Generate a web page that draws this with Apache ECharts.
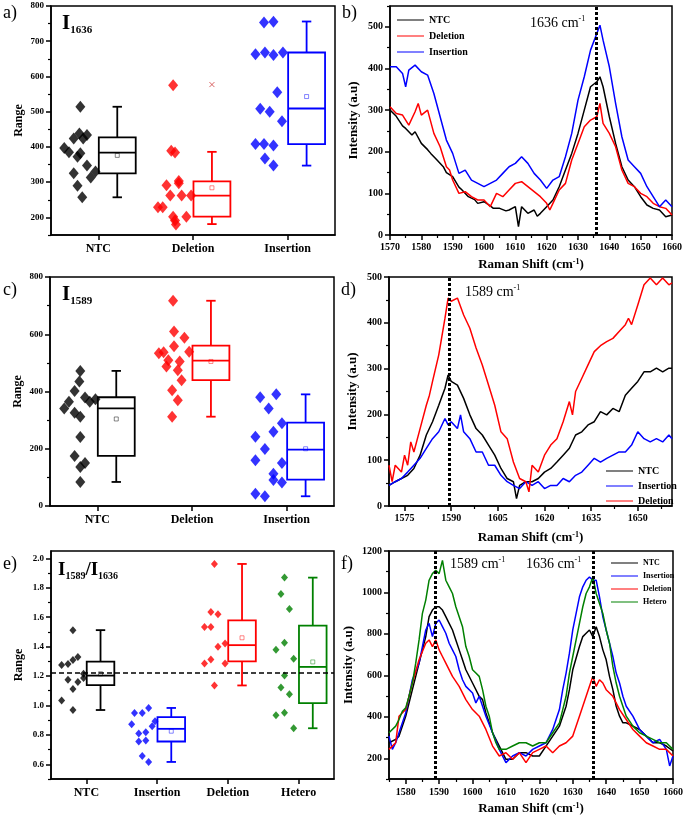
<!DOCTYPE html>
<html><head><meta charset="utf-8">
<script src="https://cdn.jsdelivr.net/npm/echarts@6/dist/echarts.min.js"></script>
<style>html,body{margin:0;padding:0;background:#fff}#c{width:687px;height:822px}</style>
</head><body><div id="c"></div>
<script>
// ---------------- DATA ----------------
// Panel a : I1636 (points as [offset from category, value])
const catsA = ['NTC', 'Deletion', 'Insertion'];
const a_ntcPts = [[-0.19,514],[-0.36,397],[-0.31,385],[-0.26,424],[-0.20,438],[-0.16,424],[-0.12,434],[-0.19,382],[-0.22,372],[-0.12,347],[-0.26,325],[-0.03,330],[-0.08,313],[-0.22,290],[-0.17,257]];
const a_delPts = [[-0.21,575],[-0.23,389],[-0.19,384],[-0.15,303],[-0.15,297],[-0.28,291],[-0.24,262],[-0.12,262],[-0.02,262],[-0.37,229],[-0.32,229],[-0.21,202],[-0.19,191],[-0.18,180],[-0.07,202]];
const a_insPts = [[-0.25,753],[-0.15,755],[-0.34,663],[-0.24,668],[-0.15,661],[-0.05,668],[-0.11,555],[-0.29,508],[-0.19,500],[-0.06,473],[-0.34,408],[-0.25,408],[-0.15,404],[-0.24,367],[-0.15,347]];
// box stats: [q1, median, q3, whisker low, whisker high, mean]
const a_boxNTC = [325, 384, 427, 257, 514, 376];
const a_boxDel = [202, 262, 302, 181, 386, 284];
const a_boxIns = [408, 509, 668, 347, 756, 543];
const a_delExtreme = 577;
const a_yMajor = [200, 300, 400, 500, 600, 700, 800];
const a_yMinor = [150, 250, 350, 450, 550, 650, 750];

// Panel c : I1589
const catsC = ['NTC', 'Deletion', 'Insertion'];
const c_ntcPts = [[-0.18,472],[-0.19,435],[-0.24,402],[-0.30,364],[-0.35,341],[-0.24,326],[-0.18,312],[-0.13,379],[-0.08,364],[-0.02,373],[-0.18,241],[-0.24,175],[-0.13,150],[-0.18,136],[-0.18,84]];
const c_delPts = [[-0.20,717],[-0.19,610],[-0.08,588],[-0.19,558],[-0.35,534],[-0.30,537],[-0.03,539],[-0.25,509],[-0.13,505],[-0.27,487],[-0.15,474],[-0.11,439],[-0.21,404],[-0.15,369],[-0.21,312]];
const c_insPts = [[-0.28,380],[-0.11,390],[-0.19,341],[-0.33,242],[-0.14,259],[-0.05,289],[-0.23,199],[-0.33,160],[-0.05,150],[-0.14,113],[-0.14,91],[-0.05,82],[-0.33,43],[-0.23,34]];
const c_boxNTC = [175, 341, 380, 84, 472, 304];
const c_boxDel = [440, 508, 560, 312, 717, 505];
const c_boxIns = [92, 197, 291, 34, 390, 200];
const c_yMajor = [0, 200, 400, 600, 800];
const c_yMinor = [100, 300, 500, 700];

// Panel e : I1589/I1636
const catsE = ['NTC', 'Insertion', 'Deletion', 'Hetero'];
const e_ntcPts = [[-0.19,1.512],[-0.35,1.275],[-0.26,1.282],[-0.19,1.309],[-0.12,1.329],[-0.26,1.174],[-0.04,1.215],[-0.04,1.186],[-0.12,1.160],[-0.19,1.111],[-0.35,1.034],[-0.19,0.969]];
const e_insPts = [[-0.32,0.949],[-0.21,0.949],[-0.12,0.983],[-0.36,0.872],[-0.03,0.893],[-0.26,0.810],[-0.16,0.818],[-0.07,0.859],[-0.26,0.755],[-0.16,0.762],[-0.21,0.656],[-0.12,0.616]];
const e_delPts = [[-0.19,1.962],[-0.24,1.635],[-0.14,1.620],[-0.33,1.534],[-0.24,1.534],[-0.14,1.399],[-0.04,1.421],[-0.24,1.313],[-0.33,1.286],[-0.04,1.286],[-0.19,1.136]];
const e_hetPts = [[-0.20,1.869],[-0.25,1.757],[-0.13,1.656],[-0.32,1.379],[-0.20,1.426],[-0.07,1.318],[-0.20,1.203],[-0.25,1.122],[-0.13,1.077],[-0.32,0.933],[-0.20,0.951],[-0.07,0.845]];
const e_boxNTC = [1.138, 1.203, 1.298, 0.969, 1.512, 1.215];
const e_boxIns = [0.755, 0.841, 0.920, 0.616, 0.983, 0.825];
const e_boxDel = [1.300, 1.410, 1.579, 1.136, 1.962, 1.460];
const e_boxHet = [1.016, 1.262, 1.543, 0.845, 1.869, 1.296];
const e_refLine = 1.215;
const e_yMajor = [0.6, 0.8, 1.0, 1.2, 1.4, 1.6, 1.8, 2.0];
const e_yMinor = [0.5, 0.7, 0.9, 1.1, 1.3, 1.5, 1.7, 1.9];

// Panel b : spectra [Raman shift, intensity]
const b_ntc = [[1570,300],[1572,285],[1574,262],[1575,256],[1577,240],[1578,248],[1580,220],[1582,205],[1583,196],[1585,180],[1587,164],[1588,150],[1590,140],[1592,115],[1593,108],[1595,92],[1597,85],[1598,76],[1600,80],[1602,70],[1603,64],[1605,64],[1607,58],[1608,60],[1610,68],[1611,20],[1612,68],[1614,52],[1616,60],[1617,45],[1618,52],[1620,68],[1622,84],[1624,116],[1626,156],[1628,196],[1630,244],[1632,300],[1634,356],[1636,368],[1637,380],[1638,356],[1640,284],[1642,220],[1644,164],[1646,132],[1648,116],[1650,92],[1652,72],[1654,64],[1656,60],[1658,44],[1660,48]];
const b_del = [[1570,308],[1572,292],[1574,288],[1576,264],[1578,296],[1579,316],[1580,288],[1582,300],[1584,244],[1586,212],[1588,164],[1589,156],[1590,132],[1592,100],[1594,104],[1596,92],[1598,84],[1600,84],[1602,68],[1604,100],[1606,92],[1608,108],[1610,124],[1612,128],[1614,116],[1616,104],[1618,92],[1620,76],[1621,60],[1622,76],[1624,108],[1626,124],[1628,180],[1630,220],[1632,260],[1634,276],[1636,284],[1637,316],[1638,268],[1640,244],[1642,212],[1644,156],[1646,124],[1648,116],[1650,100],[1652,92],[1654,76],[1656,68],[1658,64],[1660,48]];
const b_ins = [[1570,404],[1572,404],[1574,388],[1575,356],[1576,396],[1578,408],[1580,392],[1582,384],[1584,340],[1586,284],[1588,228],[1590,196],[1592,148],[1594,156],[1596,132],[1598,124],[1600,116],[1602,124],[1604,132],[1606,148],[1608,164],[1610,172],[1612,188],[1614,172],[1616,148],[1618,132],[1620,112],[1622,132],[1624,140],[1626,188],[1628,244],[1630,324],[1632,380],[1634,444],[1636,484],[1637,504],[1638,468],[1640,404],[1642,316],[1644,236],[1646,180],[1648,164],[1650,148],[1652,116],[1654,92],[1656,68],[1658,84],[1660,68]];
const b_peak = 1635.7;

// Panel d : spectra
const d_ntc = [[1570,45],[1572,53],[1574,60],[1576,67],[1578,82],[1580,111],[1582,155],[1584,184],[1586,220],[1588,257],[1589,286],[1590,272],[1592,264],[1594,235],[1596,199],[1598,169],[1600,155],[1602,133],[1604,111],[1606,82],[1608,60],[1610,53],[1611,16],[1612,45],[1614,53],[1616,53],[1618,60],[1620,74],[1622,82],[1624,96],[1626,111],[1628,126],[1630,155],[1632,162],[1634,177],[1636,184],[1638,206],[1640,199],[1642,213],[1644,206],[1646,242],[1648,257],[1650,272],[1652,293],[1654,293],[1656,301],[1658,293],[1660,301],[1661,301]];
const d_ins = [[1570,45],[1572,53],[1574,60],[1576,74],[1578,89],[1580,104],[1582,126],[1584,147],[1586,162],[1588,191],[1589,177],[1590,184],[1592,169],[1593,199],[1594,162],[1596,147],[1598,118],[1600,118],[1602,89],[1604,89],[1606,67],[1608,53],[1610,45],[1612,38],[1614,53],[1616,45],[1618,53],[1620,38],[1622,45],[1624,45],[1626,60],[1628,53],[1630,67],[1632,74],[1634,89],[1636,104],[1638,96],[1640,104],[1642,111],[1644,118],[1646,118],[1648,133],[1650,162],[1652,147],[1654,140],[1656,147],[1658,140],[1660,155],[1661,147]];
const d_del = [[1570,89],[1571,53],[1572,89],[1574,74],[1575,111],[1576,89],[1577,140],[1578,118],[1580,169],[1582,220],[1583,242],[1584,272],[1586,330],[1588,410],[1589,454],[1590,447],[1592,454],[1594,417],[1596,388],[1598,345],[1600,308],[1602,264],[1604,220],[1606,162],[1608,147],[1610,96],[1612,60],[1614,53],[1615,31],[1616,89],[1618,74],[1620,111],[1622,133],[1624,147],[1626,184],[1628,228],[1629,199],[1630,250],[1632,279],[1634,308],[1636,337],[1638,350],[1640,359],[1642,366],[1644,381],[1646,396],[1647,410],[1648,396],[1650,439],[1652,483],[1654,498],[1656,483],[1658,498],[1660,483],[1661,487]];
const d_peak = 1589.5;

// Panel f : spectra
const f_ntc = [[1575,275],[1577,291],[1578,307],[1580,403],[1582,531],[1584,659],[1585,723],[1586,787],[1587,883],[1588,915],[1589,931],[1590,931],[1591,915],[1592,883],[1593,851],[1594,819],[1595,771],[1596,723],[1597,675],[1598,627],[1600,563],[1602,499],[1603,483],[1604,419],[1606,323],[1608,259],[1610,195],[1612,195],[1614,227],[1616,227],[1618,211],[1620,211],[1622,259],[1624,307],[1626,355],[1628,451],[1629,531],[1630,627],[1632,739],[1633,787],[1634,803],[1635,819],[1636,787],[1637,835],[1638,787],[1639,723],[1640,675],[1641,595],[1642,531],[1643,451],[1644,403],[1645,371],[1646,371],[1648,355],[1650,339],[1652,307],[1654,275],[1656,275],[1658,259],[1660,235]];
const f_ins = [[1575,307],[1576,243],[1577,275],[1578,323],[1580,419],[1582,579],[1584,659],[1585,739],[1586,819],[1587,851],[1588,787],[1589,851],[1590,867],[1591,835],[1592,803],[1593,755],[1594,723],[1595,691],[1596,627],[1597,579],[1598,547],[1600,515],[1601,467],[1602,499],[1604,403],[1606,323],[1608,243],[1610,179],[1612,211],[1614,227],[1616,211],[1618,243],[1620,259],[1622,275],[1624,339],[1626,435],[1627,531],[1628,611],[1629,707],[1630,819],[1631,899],[1632,979],[1633,1027],[1634,1059],[1635,1075],[1636,1059],[1637,1059],[1638,979],[1639,883],[1640,819],[1641,755],[1642,691],[1643,611],[1644,563],[1645,499],[1646,451],[1648,403],[1650,339],[1652,307],[1654,275],[1656,291],[1658,243],[1659,163],[1660,211]];
const f_del = [[1575,243],[1577,275],[1578,403],[1580,435],[1582,563],[1584,675],[1586,755],[1587,771],[1588,739],[1589,771],[1590,723],[1591,691],[1592,659],[1594,595],[1596,547],[1598,483],[1600,435],[1602,403],[1604,339],[1606,259],[1608,211],[1610,227],[1612,195],[1614,227],[1616,179],[1618,227],[1620,243],[1622,259],[1624,227],[1626,259],[1628,275],[1630,307],[1632,403],[1634,499],[1635,547],[1636,595],[1637,547],[1638,579],[1639,563],[1640,531],[1642,499],[1644,435],[1646,387],[1648,339],[1650,307],[1652,275],[1654,259],[1656,243],[1658,243],[1660,211]];
const f_het = [[1575,323],[1577,355],[1578,387],[1579,427],[1580,443],[1581,499],[1582,563],[1583,659],[1584,771],[1585,899],[1586,963],[1587,1059],[1588,1091],[1589,1107],[1590,1091],[1591,1155],[1592,1059],[1593,1027],[1594,995],[1595,931],[1596,883],[1597,835],[1598,739],[1599,691],[1600,627],[1601,611],[1602,595],[1603,531],[1604,451],[1605,403],[1606,323],[1607,275],[1608,243],[1610,243],[1612,259],[1614,275],[1616,275],[1618,259],[1620,275],[1622,275],[1624,323],[1626,371],[1627,435],[1628,499],[1629,611],[1630,691],[1631,771],[1632,851],[1633,931],[1634,995],[1635,1027],[1636,1075],[1637,995],[1638,947],[1639,899],[1640,819],[1641,755],[1642,643],[1643,563],[1644,499],[1645,451],[1646,403],[1648,355],[1650,323],[1652,307],[1654,291],[1656,275],[1658,275],[1660,243]];
const f_peaks = [1588.7, 1636];

// ---------------- STYLE / BUILD ----------------
const FONT = 'Liberation Serif';
const BLACK = '#000000', RED = '#ff0000', BLUE = '#0000ff', GREEN = '#008000';
const BOX_OFF = 0.2, BOX_W = 0.39, CAP = 4.7;

const grids = [], xAxes = [], yAxes = [], series = [];

function addGrid(left, top, width, height) {
  grids.push({left, top, width, height, show: true, borderColor: '#000', borderWidth: 1.5, backgroundColor: 'transparent', containLabel: false});
  return grids.length - 1;
}
function lineAxis(kind, gi, o) {
  const ax = {
    gridIndex: gi, type: 'value', min: o.min, max: o.max,
    position: kind === 'x' ? 'bottom' : 'left',
    axisLine: {show: true, onZero: false, lineStyle: {color: '#000', width: 1.5}},
    splitLine: {show: false},
    axisTick: {show: true, customValues: o.majors, length: 5, inside: false, lineStyle: {color: '#000', width: 1.5}},
    axisLabel: {customValues: o.majors, formatter: o.fmt || (v => String(v)), fontFamily: FONT, fontWeight: 'bold', fontSize: o.fontSize || 10, color: '#000', margin: o.margin || 7},
    name: o.name || '', nameLocation: 'middle', nameGap: o.nameGap || 25,
    nameTextStyle: {fontFamily: FONT, fontWeight: 'bold', fontSize: o.nameSize || 13, color: '#000', rich: o.nameRich}
  };
  const arr = kind === 'x' ? xAxes : yAxes;
  arr.push(ax);
  const idx = arr.length - 1;
  if (o.minors) {
    arr.push({
      gridIndex: gi, type: 'value', min: o.min, max: o.max,
      position: kind === 'x' ? 'bottom' : 'left',
      axisLine: {show: false, onZero: false}, splitLine: {show: false}, axisLabel: {show: false},
      axisTick: {show: true, customValues: o.minors, length: 3, lineStyle: {color: '#000', width: 1.2}}
    });
  }
  return idx;
}
const ramanRich = {sup: {fontSize: 8, fontFamily: FONT, fontWeight: 'bold', verticalAlign: 'top', lineHeight: 8, padding: [0, 0, 6, 0]}};
const ramanName = 'Raman Shift (cm{sup|-1})';

function boxRender(params, api) {
  const x = api.value(0) + BOX_OFF;
  const q1 = api.value(1), med = api.value(2), q3 = api.value(3), lo = api.value(4), hi = api.value(5), mean = api.value(6);
  const P = v => api.coord([x, v]);
  const w = api.size([BOX_W, 0])[0];
  const cx = P(med)[0];
  const yQ1 = P(q1)[1], yQ3 = P(q3)[1], yM = P(med)[1], yLo = P(lo)[1], yHi = P(hi)[1], yMean = P(mean)[1];
  const color = api.visual('color');
  const st = {stroke: color, fill: null, lineWidth: 1.8};
  return {type: 'group', children: [
    {type: 'rect', shape: {x: cx - w / 2, y: yQ3, width: w, height: yQ1 - yQ3}, style: st},
    {type: 'line', shape: {x1: cx - w / 2, y1: yM, x2: cx + w / 2, y2: yM}, style: st},
    {type: 'line', shape: {x1: cx, y1: yQ3, x2: cx, y2: yHi}, style: st},
    {type: 'line', shape: {x1: cx, y1: yQ1, x2: cx, y2: yLo}, style: st},
    {type: 'line', shape: {x1: cx - CAP, y1: yHi, x2: cx + CAP, y2: yHi}, style: st},
    {type: 'line', shape: {x1: cx - CAP, y1: yLo, x2: cx + CAP, y2: yLo}, style: st},
    {type: 'rect', shape: {x: cx - 2, y: yMean - 2, width: 4, height: 4}, style: {stroke: color, fill: null, lineWidth: 0.8, opacity: 0.6}}
  ]};
}
function addGroup(xi, yi, tag, cat, pts, box, color, symSize) {
  series.push({
    name: tag + '-pts', type: 'scatter', xAxisIndex: xi, yAxisIndex: yi,
    symbol: 'diamond', symbolSize: symSize, itemStyle: {color: color}, silent: true, animation: false,
    data: pts.map(p => [cat + p[0], p[1]])
  });
  series.push({
    name: tag + '-box', type: 'custom', xAxisIndex: xi, yAxisIndex: yi, renderItem: boxRender,
    itemStyle: {color: color}, silent: true, animation: false, clip: false,
    data: [[cat].concat(box)]
  });
}
function catAxis(gi, cats, fontSize) {
  return lineAxis('x', gi, {min: 0.5, max: cats.length + 0.5, majors: cats.map((c, i) => i + 1),
    fmt: v => cats[Math.round(v) - 1], fontSize: fontSize, margin: 8});
}

// ---- panel a
let g = addGrid(51, 6, 284, 229);
let xi = catAxis(g, catsA, 12);
let yi = lineAxis('y', g, {min: 150, max: 800, majors: a_yMajor, minors: a_yMinor, fontSize: 9, margin: 7, name: 'Range', nameGap: 26, nameSize: 12});
addGroup(xi, yi, 'aN', 1, a_ntcPts, a_boxNTC, BLACK, [10, 12]);
addGroup(xi, yi, 'aD', 2, a_delPts, a_boxDel, RED, [10, 12]);
addGroup(xi, yi, 'aI', 3, a_insPts, a_boxIns, BLUE, [10, 12]);
series.push({name: 'aD-ext', type: 'scatter', xAxisIndex: xi, yAxisIndex: yi, symbol: 'path://M0 0L10 10M10 0L0 10',
  symbolSize: 5, itemStyle: {color: 'none', borderColor: '#d04040', borderWidth: 1}, silent: true, animation: false,
  data: [[2 + BOX_OFF, a_delExtreme]]});

// ---- panel c
g = addGrid(50, 277, 284, 229);
xi = catAxis(g, catsC, 12);
yi = lineAxis('y', g, {min: 0, max: 800, majors: c_yMajor, minors: c_yMinor, fontSize: 9, margin: 7, name: 'Range', nameGap: 26, nameSize: 12});
addGroup(xi, yi, 'cN', 1, c_ntcPts, c_boxNTC, BLACK, [10, 12]);
addGroup(xi, yi, 'cD', 2, c_delPts, c_boxDel, RED, [10, 12]);
addGroup(xi, yi, 'cI', 3, c_insPts, c_boxIns, BLUE, [10, 12]);

// ---- panel e
g = addGrid(51, 551, 283, 228);
xi = catAxis(g, catsE, 12);
yi = lineAxis('y', g, {min: 0.5, max: 2.05, majors: e_yMajor, minors: e_yMinor, fontSize: 9, margin: 7,
  fmt: v => v.toFixed(1), name: 'Range', nameGap: 26, nameSize: 12});
addGroup(xi, yi, 'eN', 1, e_ntcPts, e_boxNTC, BLACK, [7, 8]);
addGroup(xi, yi, 'eI', 2, e_insPts, e_boxIns, BLUE, [7, 8]);
addGroup(xi, yi, 'eD', 3, e_delPts, e_boxDel, RED, [7, 8]);
addGroup(xi, yi, 'eH', 4, e_hetPts, e_boxHet, GREEN, [7, 8]);
series.push({name: 'e-ref', type: 'line', xAxisIndex: xi, yAxisIndex: yi, data: [], silent: true, animation: false,
  markLine: {silent: true, symbol: 'none', label: {show: false}, animation: false,
    lineStyle: {color: '#000', width: 1.5, type: [5, 3]}, data: [{yAxis: e_refLine}]}});

function addSpectra(xi, yi, list, peaks) {
  list.forEach(([name, data, color], k) => {
    const s = {name: name, type: 'line', xAxisIndex: xi, yAxisIndex: yi, data: data, showSymbol: false, symbol: 'none',
      lineStyle: {color: color, width: 1.5}, itemStyle: {color: color}, animation: false, silent: true, clip: true};
    if (k === 0) {
      s.markLine = {silent: true, symbol: 'none', label: {show: false}, animation: false,
        lineStyle: {color: '#000', width: 3, type: [3, 2]}, data: peaks.map(p => ({xAxis: p}))};
    }
    series.push(s);
  });
}
const intName = 'Intensity (a.u)';

// ---- panel b
g = addGrid(390, 6, 282, 229);
xi = lineAxis('x', g, {min: 1570, max: 1660, majors: [1570,1580,1590,1600,1610,1620,1630,1640,1650,1660],
  minors: [1575,1585,1595,1605,1615,1625,1635,1645,1655], fontSize: 10, margin: 7, name: ramanName, nameRich: ramanRich, nameGap: 23});
yi = lineAxis('y', g, {min: 0, max: 550, majors: [0,100,200,300,400,500], minors: [50,150,250,350,450,550], fontSize: 10, margin: 7,
  name: intName, nameGap: 30});
addSpectra(xi, yi, [['NTC', b_ntc, BLACK], ['Deletion', b_del, RED], ['Insertion', b_ins, BLUE]], [b_peak]);

// ---- panel d
g = addGrid(389, 277, 283, 229);
xi = lineAxis('x', g, {min: 1570, max: 1661, majors: [1575,1590,1605,1620,1635,1650],
  minors: [1582.5,1597.5,1612.5,1627.5,1642.5,1657.5], fontSize: 10, margin: 7, name: ramanName, nameRich: ramanRich, nameGap: 25});
yi = lineAxis('y', g, {min: 0, max: 500, majors: [0,100,200,300,400,500], minors: [50,150,250,350,450], fontSize: 10, margin: 7,
  name: intName, nameGap: 30});
addSpectra(xi, yi, [['NTC', d_ntc, BLACK], ['Insertion', d_ins, BLUE], ['Deletion', d_del, RED]], [d_peak]);

// ---- panel f
g = addGrid(389, 551, 284, 228);
xi = lineAxis('x', g, {min: 1575, max: 1660, majors: [1580,1590,1600,1610,1620,1630,1640,1650,1660],
  minors: [1575,1585,1595,1605,1615,1625,1635,1645,1655], fontSize: 10, margin: 8, name: ramanName, nameRich: ramanRich, nameGap: 23});
yi = lineAxis('y', g, {min: 100, max: 1200, majors: [200,400,600,800,1000,1200], minors: [100,300,500,700,900,1100], fontSize: 10, margin: 7,
  name: intName, nameGap: 34});
addSpectra(xi, yi, [['NTC', f_ntc, BLACK], ['Insertion', f_ins, BLUE], ['Deletion', f_del, RED], ['Hetero', f_het, GREEN]], f_peaks);

// ---- legends
const legBase = {orient: 'vertical', itemWidth: 27, itemHeight: 10, icon: 'path://M0 4.5L27 4.5L27 5.5L0 5.5Z',
  textStyle: {fontFamily: FONT, fontWeight: 'bold', fontSize: 10, color: '#000'}, selectedMode: false};
const legends = [
  Object.assign({}, legBase, {left: 392, top: 10, itemGap: 6, data: ['NTC', 'Deletion', 'Insertion']}),
  Object.assign({}, legBase, {left: 601, top: 461, itemGap: 5, data: ['NTC', 'Insertion', 'Deletion']}),
  Object.assign({}, legBase, {left: 606, top: 554, itemGap: 5, itemHeight: 10, data: ['NTC', 'Insertion', 'Deletion', 'Hetero'],
    textStyle: {fontFamily: FONT, fontWeight: 'bold', fontSize: 8, color: '#000'}})
];

// ---- text
function txt(left, top, text, size, rich, weight) {
  return {type: 'text', left, top, silent: true,
    style: {text, fill: '#000', font: (weight || 'normal') + ' ' + size + 'px "' + FONT + '"', rich}};
}
const iRich = {
  b: {fontFamily: FONT, fontWeight: 'bold', fontSize: 21, lineHeight: 24},
  s: {fontFamily: FONT, fontWeight: 'bold', fontSize: 11, lineHeight: 11, verticalAlign: 'bottom'}
};
const iRichE = {
  b: {fontFamily: FONT, fontWeight: 'bold', fontSize: 19, lineHeight: 22},
  s: {fontFamily: FONT, fontWeight: 'bold', fontSize: 10, lineHeight: 10, verticalAlign: 'bottom'}
};
const cmRich = {
  n: {fontFamily: FONT, fontSize: 14, lineHeight: 16},
  s: {fontFamily: FONT, fontSize: 8, lineHeight: 8, verticalAlign: 'top'}
};
const graphics = [
  txt(3, 4, 'a)', 18), txt(342, 4, 'b)', 18), txt(3, 281, 'c)', 18), txt(341, 281, 'd)', 18),
  txt(3, 555, 'e)', 18), txt(341, 555, 'f)', 18),
  txt(62, 13, '{b|I}{s|1636}', 21, iRich, 'bold'),
  txt(62, 284, '{b|I}{s|1589}', 21, iRich, 'bold'),
  txt(58, 561, '{b|I}{s|1589}{b|/I}{s|1636}', 19, iRichE, 'bold'),
  txt(530, 15, '{n|1636 cm}{s|-1}', 14, cmRich),
  txt(465, 284, '{n|1589 cm}{s|-1}', 14, cmRich),
  txt(450, 556, '{n|1589 cm}{s|-1}', 14, cmRich),
  txt(526, 556, '{n|1636 cm}{s|-1}', 14, cmRich)
];

const chart = echarts.init(document.getElementById('c'), null, {renderer: 'canvas'});
chart.setOption({
  animation: false, backgroundColor: '#fff',
  grid: grids, xAxis: xAxes, yAxis: yAxes, series: series, legend: legends, graphic: graphics
});
</script></body></html>
